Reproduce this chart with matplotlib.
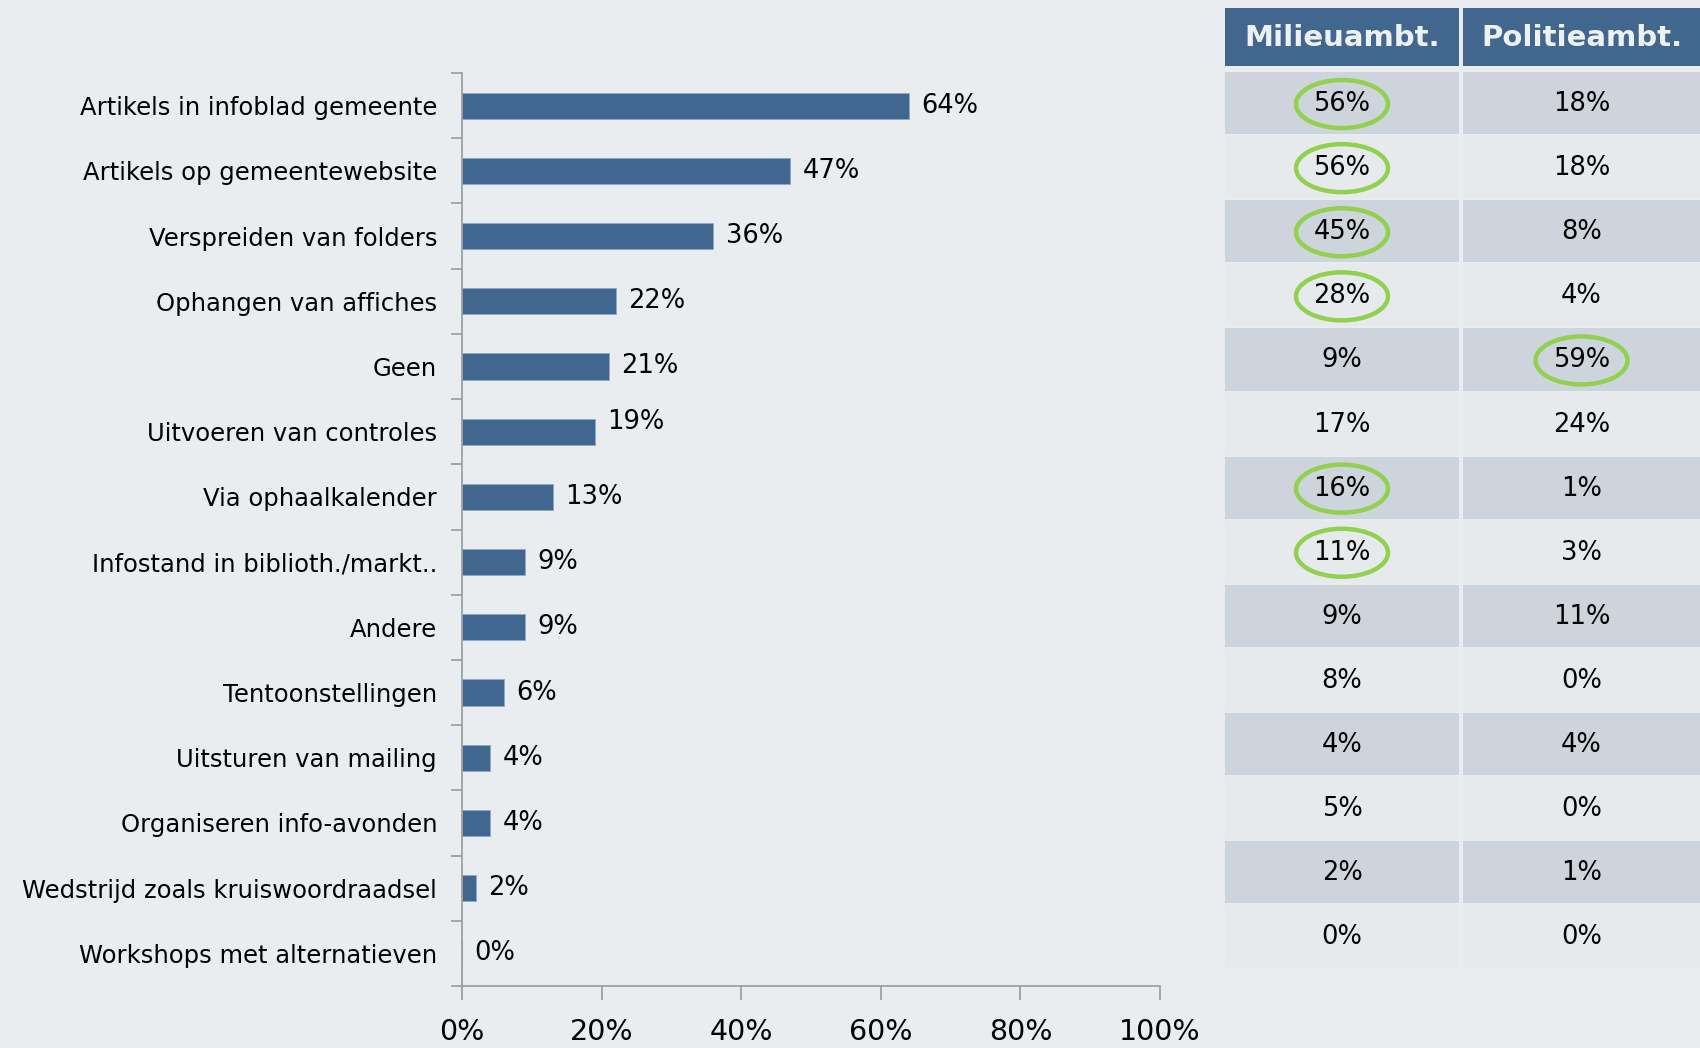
import matplotlib.pyplot as plt
from matplotlib.patches import Rectangle, Ellipse
import numpy as np

# Data
categories = ['Artikels in infoblad gemeente', 'Artikels op gemeentewebsite',
              'Verspreiden van folders', 'Ophangen van affiches', 'Geen',
              'Uitvoeren van controles', 'Via ophaalkalender',
              'Infostand in biblioth./markt..', 'Andere', 'Tentoonstellingen',
              'Uitsturen van mailing', 'Organiseren info-avonden',
              'Wedstrijd zoals kruiswoordraadsel', 'Workshops met alternatieven']
totaal = [64, 47, 36, 22, 21, 19, 13, 9, 9, 6, 4, 4, 2, 0]
milieu = [56, 56, 45, 28, 9, 17, 16, 11, 9, 8, 4, 5, 2, 0]
politie = [18, 18, 8, 4, 59, 24, 1, 3, 11, 0, 4, 0, 1, 0]
headers = ['Milieuambt.', 'Politieambt.']
circled_milieu = [0, 1, 2, 3, 6, 7]
circled_politie = [4]

bg = '#E9EDEF'
bar_col = '#41668F'
W, H = 1700, 1048

fig = plt.figure(figsize=(17, 10.48), dpi=100, facecolor=bg)

# ---- bar chart ----
ax = fig.add_axes([462 / W, 1 - 986 / H, 698 / W, 913 / H], facecolor=bg)
y = np.arange(len(categories))
ax.barh(y, totaal, height=0.4, color=bar_col, edgecolor='#8FA8C4', linewidth=0.6)
ax.set_xlim(0, 100)
ax.set_ylim(len(categories) - 0.5, -0.5)
for i, v in enumerate(totaal):
    dy = -0.15 if i == 5 else 0
    ax.text(v + 1.8, i + dy, f'{v}%', va='center', ha='left', fontsize=18.5, color='black')

ax.set_yticks(y)
ax.set_yticklabels(categories, fontsize=17.5)
ax.set_yticks(np.arange(-0.5, len(categories), 1), minor=True)
ax.tick_params(axis='y', which='major', length=0, pad=18)
ax.tick_params(axis='y', which='minor', length=8, color='#999999', width=1.2)
ax.set_xticks([0, 20, 40, 60, 80, 100])
ax.set_xticklabels([f'{t}%' for t in [0, 20, 40, 60, 80, 100]], fontsize=20.5)
ax.tick_params(axis='x', length=10, color='#999999', width=1.2, pad=13)
for s in ['top', 'right']:
    ax.spines[s].set_visible(False)
for s in ['left', 'bottom']:
    ax.spines[s].set_color('#999999')
    ax.spines[s].set_linewidth(1.2)

# ---- table ----
tx = fig.add_axes([1225 / W, 0, 475 / W, 1])
tx.set_xlim(0, 475)
tx.set_ylim(H, 0)
tx.axis('off')

col_x = [(0, 234), (238, 475)]
header_top, header_bot = 8, 66
row_top, row_h = 72, 64.1
for x0, x1 in col_x:
    tx.add_patch(Rectangle((x0, header_top), x1 - x0, header_bot - header_top,
                           color='#41678F', lw=0))
for j, h in enumerate(headers):
    cx = (col_x[j][0] + col_x[j][1]) / 2
    tx.text(cx, (header_top + header_bot) / 2 + 1, h, ha='center', va='center',
            fontsize=21, fontweight='bold', color='#EEF1F4')

for i in range(len(categories)):
    top = row_top + i * row_h
    fc = '#CDD4DC' if i % 2 == 0 else '#E6EAED'
    cy = top + row_h / 2
    for j, vals in enumerate([milieu, politie]):
        x0, x1 = col_x[j]
        tx.add_patch(Rectangle((x0, top), x1 - x0, row_h - 2, color=fc, lw=0))
        cx = (x0 + x1) / 2
        tx.text(cx, cy, f'{vals[i]}%', ha='center', va='center', fontsize=18.5, color='black')
    if i in circled_milieu:
        tx.add_patch(Ellipse(((col_x[0][0] + col_x[0][1]) / 2, cy), 92, 48,
                             fill=False, ec='#92D050', lw=3.2))
    if i in circled_politie:
        tx.add_patch(Ellipse(((col_x[1][0] + col_x[1][1]) / 2, cy), 92, 48,
                             fill=False, ec='#92D050', lw=3.2))

fig.savefig('out.png', dpi=100, facecolor=bg)
